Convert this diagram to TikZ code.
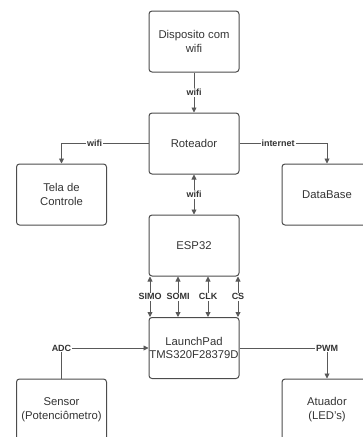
\documentclass[tikz,border=0pt]{standalone}
\usepackage{fontspec}
\setmainfont{Liberation Sans}
\usetikzlibrary{arrows.meta}

\tikzset{
  box/.style={draw=black!70, line width=1pt, rounded corners=3pt,
    minimum width=90pt, minimum height=61pt, inner xsep=0pt, align=center,
    text=black!80, font=\fontsize{11.3}{13.5}\selectfont},
  link/.style={draw=black!65, line width=0.9pt, -{Triangle[length=5pt,width=5pt]}},
  both/.style={link, {Triangle[length=5pt,width=5pt]}-{Triangle[length=5pt,width=5pt]}},
  lbl/.style={fill=white, inner sep=1pt, text=black!80,
    font=\fontsize{9}{10}\selectfont\bfseries}
}

\begin{document}
\begin{tikzpicture}[x=1pt,y=-1pt]
\useasboundingbox (0,0) rectangle (363,437);
\clip (0,0) rectangle (363,437);

\node[box] (disp) at (194,41.5) {Disposito com\\wifi};
\node[box] (rot) at (194,143.5) {Roteador};
\node[box] (tela) at (61.5,194.5) {Tela de\\Controle};
\node[box] (db) at (327,194.5) {DataBase};
\node[box] (esp) at (194,245.5) {ESP32};
\node[box] (lp) at (194,348) {LaunchPad\\TMS320F28379D};
\node[box] (sensor) at (61.5,409.5) {Sensor\\(Potenciômetro)};
\node[box] (atuador) at (327,409.5) {Atuador\\(LED's)};

\draw[link] (disp) -- (rot) node[lbl, midway] {wifi};
\draw[link] (rot.west) -| (tela.north) node[lbl, pos=0.31] {wifi};
\draw[link] (rot.east) -| (db.north) node[lbl, pos=0.22] {internet};
\draw[both] (rot) -- (esp) node[lbl, midway] {wifi};

\foreach \dx/\sig in {-44/SIMO,-16/SOMI,14/CLK,44/CS} {
  \draw[both] ([xshift=\dx pt]esp.south) -- ([xshift=\dx pt]lp.north)
    node[lbl, midway] {\sig};
}

\draw[link] (sensor.north) |- (lp.west) node[lbl, pos=0.5] {ADC};
\draw[link] (lp.east) -| (atuador.north) node[lbl, pos=0.5] {PWM};
\end{tikzpicture}
\end{document}
